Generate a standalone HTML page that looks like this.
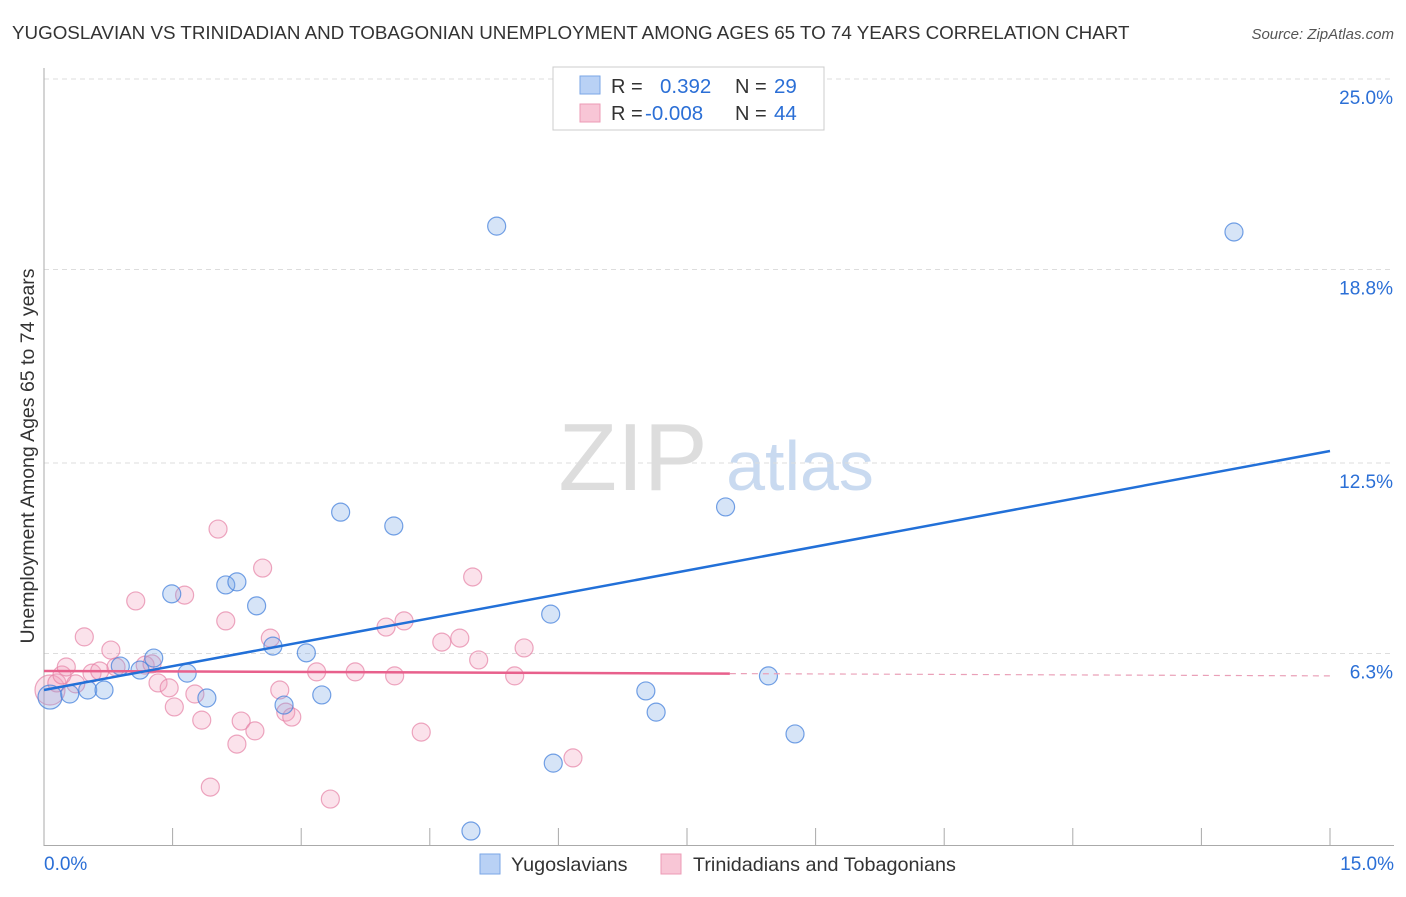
<!DOCTYPE html>
<html><head><meta charset="utf-8"><style>
body{margin:0;background:#fff;font-family:"Liberation Sans",sans-serif;}
svg text{font-family:"Liberation Sans",sans-serif;}
</style></head><body>
<svg id="chart" width="1406" height="892">
<text x="12" y="39" font-size="18.8" fill="#333">YUGOSLAVIAN VS TRINIDADIAN AND TOBAGONIAN UNEMPLOYMENT AMONG AGES 65 TO 74 YEARS CORRELATION CHART</text>
<text x="1394" y="39" font-size="15" fill="#555" text-anchor="end" font-style="italic">Source: ZipAtlas.com</text>
<text x="0" y="0" transform="translate(34,456) rotate(-90)" font-size="19.5" fill="#333" text-anchor="middle">Unemployment Among Ages 65 to 74 years</text>
<g><text x="633" y="490" font-size="96" fill="#ddd" font-family="Liberation Serif" text-anchor="middle">ZIP</text><text x="800" y="490" font-size="70" fill="#c9daf0" text-anchor="middle">atlas</text></g>
<g id="grid"></g><g id="axes"></g><g id="marks"></g>
<g>
<rect x="553" y="67" width="271" height="63" fill="#fff" stroke="#ccc"/>
<rect x="580" y="76" width="20" height="18" fill="#b9d1f5" stroke="#7aa6e6"/>
<rect x="580" y="104" width="20" height="18" fill="#f8c6d6" stroke="#ec9bb6"/>
<text x="611" y="93" font-size="20" fill="#333">R = </text><text x="660" y="93" font-size="20.5" fill="#2b6fd6">0.392</text>
<text x="735" y="93" font-size="20" fill="#333">N = </text><text x="774" y="93" font-size="20.5" fill="#2b6fd6">29</text>
<text x="611" y="120" font-size="20" fill="#333">R = </text><text x="645" y="120" font-size="20.5" fill="#2b6fd6">-0.008</text>
<text x="735" y="120" font-size="20" fill="#333">N = </text><text x="774" y="120" font-size="20.5" fill="#2b6fd6">44</text>
</g>
<g>
<rect x="480" y="854" width="20" height="20" fill="#b9d1f5" stroke="#7aa6e6"/>
<text x="511" y="871" font-size="19.8" fill="#333">Yugoslavians</text>
<rect x="661" y="854" width="20" height="20" fill="#f8c6d6" stroke="#ec9bb6"/>
<text x="693" y="871" font-size="19.8" fill="#333">Trinidadians and Tobagonians</text>
</g>
</svg>
<script>
const yTicks=[6.3,12.5,18.8,25.0];
const yTickLabels=["6.3%","12.5%","18.8%","25.0%"];
const xTickCount=10;
const blueX=[0.07,0.30,0.51,0.70,0.89,1.12,1.28,1.49,1.67,1.90,2.12,2.25,2.48,2.67,2.80,3.06,3.24,3.46,4.08,5.28,4.98,5.91,5.94,7.02,7.14,7.95,8.45,8.76,13.88];
const blueY=[4.88,4.98,5.11,5.11,5.89,5.76,6.15,8.24,5.66,4.85,8.53,8.63,7.85,6.54,4.62,6.32,4.95,10.90,10.45,20.21,0.52,7.58,2.73,5.08,4.39,11.07,5.57,3.68,20.02];
const pinkX=[0.07,0.15,0.21,0.26,0.37,0.47,0.56,0.65,0.78,0.84,1.07,1.18,1.26,1.33,1.46,1.52,1.64,1.76,1.84,1.94,2.03,2.12,2.30,2.25,2.46,2.55,2.64,2.75,2.82,2.89,3.18,3.34,3.63,3.99,4.09,4.20,4.40,4.64,4.85,5.00,5.07,5.49,5.60,6.17];
const pinkY=[5.11,5.34,5.60,5.86,5.31,6.84,5.66,5.73,6.41,5.86,8.01,5.92,5.96,5.34,5.18,4.56,8.20,4.98,4.13,1.95,10.35,7.36,4.10,3.35,3.78,9.08,6.80,5.11,4.39,4.23,5.70,1.56,5.70,7.16,5.57,7.36,3.74,6.67,6.80,8.79,6.09,5.57,6.48,2.90];
const blueTrend=[5.11,12.89];
const pinkTrend=[5.73,5.57];
const X0=44,X1=1330,XMAX=15,Y0=847,PXY=30.72;
const sx=v=>X0+(X1-X0)*v/XMAX, sy=v=>Y0-v*PXY;
const NS="http://www.w3.org/2000/svg";
function mk(tag,attrs,parent){const e=document.createElementNS(NS,tag);for(const k in attrs)e.setAttribute(k,attrs[k]);document.getElementById(parent).appendChild(e);return e;}
yTicks.forEach((t,i)=>{
  const g=mk('line',{x1:X0,x2:1394,y1:sy(t),y2:sy(t),stroke:'#ddd','stroke-dasharray':'5,4'},'grid');
  
  
  const tx=mk('text',{x:1393,y:sy(t)+25,'font-size':19,fill:'#2b6fd6','text-anchor':'end'},'axes');
  tx.textContent=yTickLabels[i];
  
  
});
let ax=mk('line',{x1:X0,x2:X0,y1:68,y2:846,stroke:'#aaa'},'axes');


ax=mk('line',{x1:X0,x2:1394,y1:845.5,y2:845.5,stroke:'#aaa'},'axes');


for(let i=0;i<=xTickCount;i++){
  const x=sx(XMAX*i/xTickCount);
  const t=mk('line',{x1:x,x2:x,y1:828,y2:846,stroke:'#aaa'},'axes');
  
  
}
let xl=mk('text',{x:44,y:870,'font-size':19,fill:'#2b6fd6'},'axes');xl.textContent='0.0%';


xl=mk('text',{x:1394,y:870,'font-size':19,fill:'#2b6fd6','text-anchor':'end'},'axes');xl.textContent='15.0%';


pinkX.forEach((x,i)=>{
  const c=mk('circle',{cx:sx(x),cy:sy(pinkY[i]),r:i===0?15:9,fill:'rgba(242,160,190,0.3)',stroke:'rgba(230,130,165,0.7)','stroke-width':1.2},'marks');
  
  
});
blueX.forEach((x,i)=>{
  const c=mk('circle',{cx:sx(x),cy:sy(blueY[i]),r:i===0?12:9,fill:'rgba(120,165,230,0.3)',stroke:'rgba(70,130,220,0.75)','stroke-width':1.2},'marks');
  
  
});
const pm=(v)=>pinkTrend[0]+(pinkTrend[1]-pinkTrend[0])*v/XMAX;
let l=mk('line',{x1:sx(0),y1:sy(pinkTrend[0]),x2:sx(8),y2:sy(pm(8)),stroke:'#e8608c','stroke-width':2.5},'marks');


l=mk('line',{x1:sx(8),y1:sy(pm(8)),x2:sx(15),y2:sy(pinkTrend[1]),stroke:'#eaa0b8','stroke-width':1.2,'stroke-dasharray':'6,5'},'marks');


l=mk('line',{x1:sx(0),y1:sy(blueTrend[0]),x2:sx(15),y2:sy(blueTrend[1]),stroke:'#2270d8','stroke-width':2.5},'marks');


</script>
</body></html>
